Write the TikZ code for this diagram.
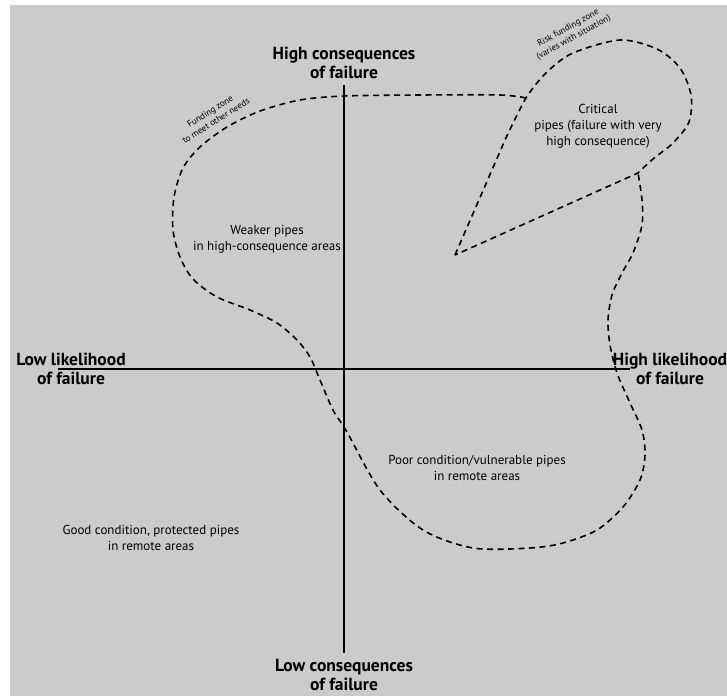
\documentclass[tikz,border=0pt]{standalone}
\usepackage{fontspec}
\setmainfont{PT Sans}
\definecolor{panelgray}{RGB}{203,203,203}
\tikzset{
  axis/.style={line width=1.6pt},
  zone/.style={line width=1.6pt, dash pattern=on 6pt off 4.5pt},
  axislabel/.style={font=\bfseries\fontsize{17.5}{19}\selectfont, align=center, inner sep=0pt},
  arealabel/.style={font=\fontsize{13}{16}\selectfont, align=center, inner sep=0pt},
  zonelabel/.style={font=\fontsize{9}{11}\selectfont, align=center, inner sep=0pt}
}
\begin{document}
\begin{tikzpicture}[x=1pt,y=-1pt]
\useasboundingbox (0,0) rectangle (727,696);
\fill[white] (0,0) rectangle (727,696);
\fill[panelgray] (10,5) rectangle (727,696);

% axes
\coordinate (top) at (344,85);
\coordinate (bottom) at (344,653);
\coordinate (left) at (58,369);
\coordinate (right) at (630,369);
\draw[axis] (top) -- (bottom);
\draw[axis] (left) -- (right);

\node[axislabel] (hicons) at (344,63) {High consequences\\of failure};
\node[axislabel] (locons) at (344,675) {Low consequences\\of failure};
\node[axislabel] (lolike) at (71,369) {Low likelihood\\of failure};
\node[axislabel] (hilike) at (670,369) {High likelihood\\of failure};

% zones
\coordinate (tip) at (455,255);
\coordinate (join) at (526,98);
\coordinate (cusp) at (638,173);

\draw[zone] (tip) -- plot[smooth] coordinates {(505,140) (join) (547,72) (573,53) (620,40) (657,49) (680,68) (691,95) (689,122) (673,143) (653,159) (cusp)} -- (tip);

\draw[zone] plot[smooth] coordinates {(join) (500,95) (420,95) (344,96) (300,100) (260,111) (227,127) (200,147) (183,168) (174,197) (173,230) (180,257) (193,279) (217,297) (250,310) (277,323) (297,340) (310,357) (320,380) (333,410) (347,432) (380,490) (423,530) (473,548) (530,548) (563,543) (597,530) (623,507) (640,480) (645,455) (642,430) (630,403) (617,373) (610,345) (608,320) (612,295) (622,273) (633,253) (642,225) (642,200) (cusp)};

\node[zonelabel, rotate=32] (fundzone) at (213,116) {Funding zone\\to meet other needs};
\node[zonelabel, rotate=29] (riskzone) at (571,33) {Risk funding zone\\(varies with situation)};

% areas
\node[arealabel] (weaker) at (267,239) {Weaker pipes\\in high-consequence areas};
\node[arealabel] (critical) at (598,126) {Critical\\pipes (failure with very\\high consequence)};
\node[arealabel] (poor) at (477,468) {Poor condition/vulnerable pipes\\in remote areas};
\node[arealabel] (good) at (151,538) {Good condition, protected pipes\\in remote areas};
\end{tikzpicture}
\end{document}
